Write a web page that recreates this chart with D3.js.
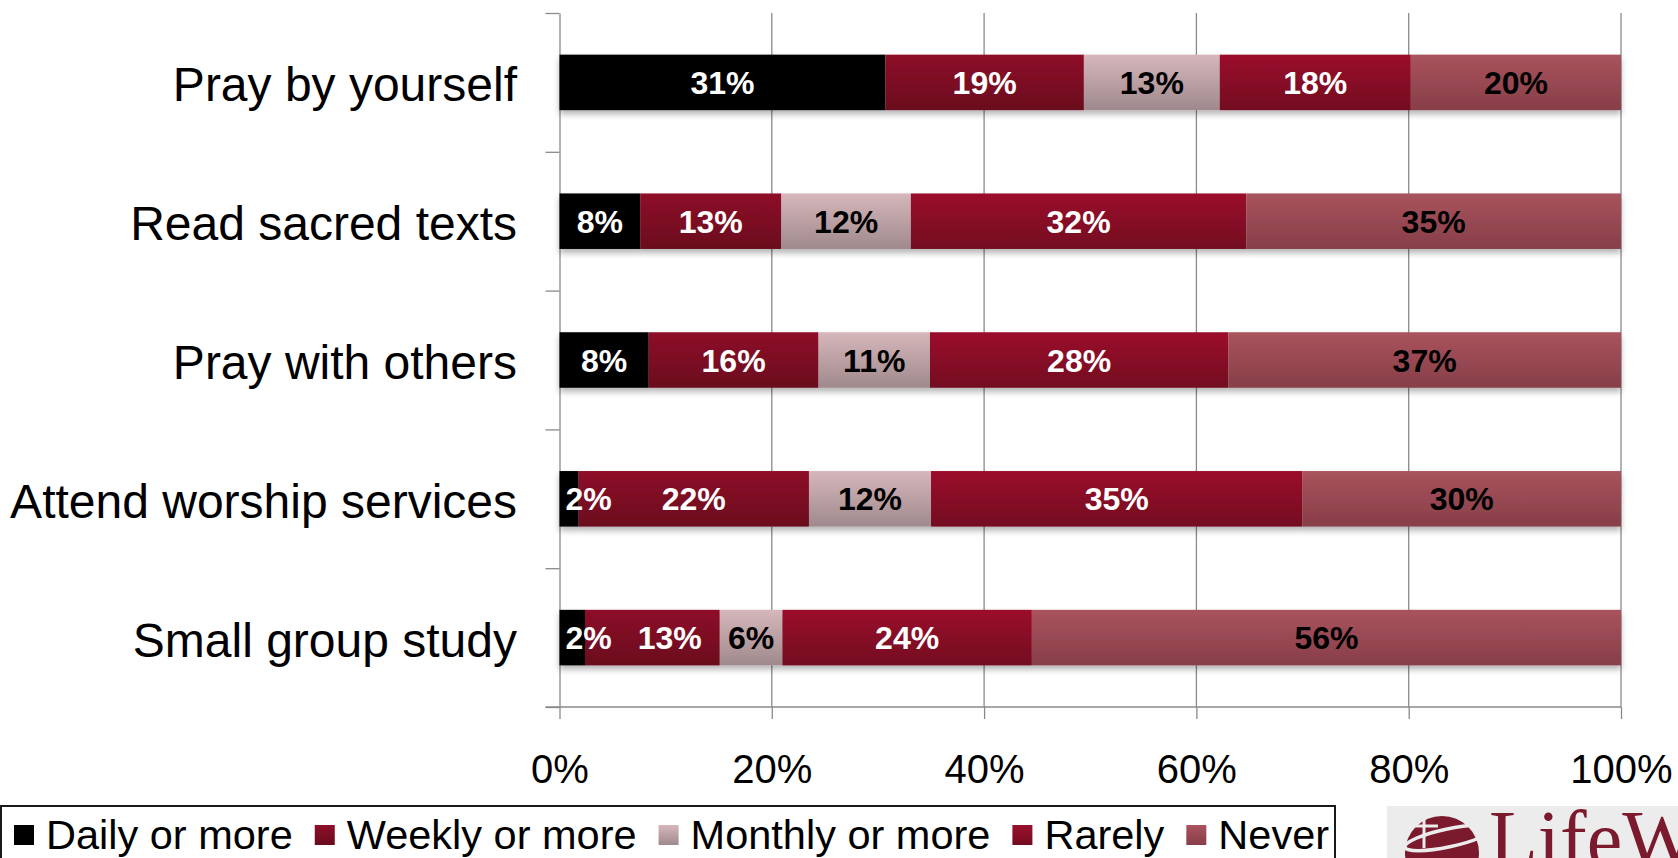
<!DOCTYPE html>
<html>
<head>
<meta charset="utf-8">
<script src="https://cdn.jsdelivr.net/npm/d3@7/dist/d3.min.js"></script>
<style>
  html, body { margin: 0; padding: 0; background: #fff; overflow: hidden; }
  text { font-family: "Liberation Sans", Arial, sans-serif; }
</style>
</head>
<body>
<svg id="chart" width="1678" height="858"></svg>
<script>
// ---- data ----
const categories = ["Pray by yourself", "Read sacred texts", "Pray with others", "Attend worship services", "Small group study"];
const seriesNames = ["Daily or more", "Weekly or more", "Monthly or more", "Rarely", "Never"];
const daily   = [30.7, 7.6, 8.4, 1.8, 2.4];
const weekly  = [18.7, 13.3, 16.0, 21.7, 12.7];
const monthly = [12.8, 12.2, 10.5, 11.5, 5.9];
const rarely  = [18.0, 31.6, 28.1, 35.0, 23.5];
const never   = [19.8, 35.3, 37.0, 30.0, 55.5];
const xTicks  = [0, 20, 40, 60, 80, 100];

const seriesValues = [daily, weekly, monthly, rarely, never];

// ---- styles ----
const grads = [
  null,
  ["#8e1029", "#6a0a1d"],
  ["#d6b7bb", "#9f898c"],
  ["#9b112c", "#730b20"],
  ["#a9535d", "#873e48"]
];
const fills = ["#000000", "url(#g1)", "url(#g2)", "url(#g3)", "url(#g4)"];
const labelColors = ["#fff", "#fff", "#000", "#fff", "#000"];

const svg = d3.select("#chart");
const defs = svg.append("defs");
grads.forEach((g, i) => {
  if (!g) return;
  const lg = defs.append("linearGradient").attr("id", "g" + i)
    .attr("x1", 0).attr("y1", 0).attr("x2", 0).attr("y2", 1);
  lg.append("stop").attr("offset", "0%").attr("stop-color", g[0]);
  lg.append("stop").attr("offset", "100%").attr("stop-color", g[1]);
});
const f = defs.append("filter").attr("id", "shadow")
  .attr("x", "-5%").attr("y", "-20%").attr("width", "110%").attr("height", "160%");
f.append("feDropShadow").attr("dx", 0).attr("dy", 4).attr("stdDeviation", 3)
  .attr("flood-color", "#000").attr("flood-opacity", 0.3);

// ---- scales ----
const plotTop = 13, plotBottom = 707;
const x = d3.scaleLinear().domain([0, 100]).range([559.5, 1621]);
const y = d3.scaleBand().domain(categories).range([plotTop, plotBottom]).paddingInner(0.6).paddingOuter(0.3);
const yEdges = d3.scaleLinear().domain([0, categories.length]).range([plotTop, plotBottom]);
const axisColor = "#8a8a8a";

// gridlines
svg.append("g").selectAll("line").data(xTicks.slice(1)).join("line")
  .attr("x1", d => x(d)).attr("x2", d => x(d))
  .attr("y1", plotTop).attr("y2", plotBottom)
  .attr("stroke", axisColor).attr("stroke-width", 1.3);

// y axis (ticks at category boundaries)
const yAxisG = svg.append("g").attr("transform", `translate(${x(0)},0)`)
  .call(d3.axisLeft(yEdges).tickValues(d3.range(0, categories.length + 1)).tickSize(14).tickSizeOuter(0).tickFormat(""));
yAxisG.selectAll("path, line").attr("stroke", axisColor).attr("stroke-width", 1.3);

// x axis
const xAxisG = svg.append("g").attr("transform", `translate(0,${plotBottom})`)
  .call(d3.axisBottom(x).tickValues(xTicks).tickSize(12).tickSizeOuter(0).tickFormat(d => d + "%"));
xAxisG.select(".domain").remove();
xAxisG.append("line").attr("x1", x(0) - 14).attr("x2", x(100)).attr("y1", 0).attr("y2", 0)
  .attr("stroke", axisColor).attr("stroke-width", 1.3);
xAxisG.selectAll("line").attr("stroke", axisColor).attr("stroke-width", 1.3);
xAxisG.selectAll("text").attr("y", 76).attr("dy", 0)
  .attr("font-size", 40).attr("fill", "#000")
  .style("font-family", '"Liberation Sans", Arial, sans-serif');

// category labels
svg.append("g").selectAll("text").data(categories).join("text")
  .attr("x", 517).attr("y", d => y(d) + y.bandwidth() / 2 + 19)
  .attr("text-anchor", "end").attr("font-size", 48).attr("fill", "#000")
  .text(d => d);

// bars
const bw = y.bandwidth();
categories.forEach((cat, ci) => {
  let cum = 0;
  const segs = seriesValues.map((vals, si) => {
    const s = { si, start: cum, v: vals[ci] };
    cum += vals[ci];
    return s;
  });
  const rowG = svg.append("g").attr("filter", "url(#shadow)");
  rowG.selectAll("rect").data(segs).join("rect")
    .attr("x", d => x(d.start)).attr("y", y(cat))
    .attr("width", d => x(d.start + d.v) - x(d.start)).attr("height", bw)
    .attr("fill", d => fills[d.si]);
  const labG = svg.append("g");
  let prevRight = -Infinity;
  segs.forEach(d => {
    const t = labG.append("text")
      .attr("y", y(cat) + bw / 2 + 11.5)
      .attr("font-size", 32).attr("font-weight", "bold")
      .attr("fill", labelColors[d.si])
      .attr("text-anchor", "middle")
      .text(Math.round(d.v) + "%");
    const w = t.node().getComputedTextLength();
    let cx = (x(d.start) + x(d.start + d.v)) / 2;
    let left = cx - w / 2;
    left = Math.max(left, x(0) + 6, prevRight + 26);
    cx = left + w / 2;
    t.attr("x", cx);
    prevRight = left + w;
  });
});

// legend
const legendY = 806;
svg.append("rect").attr("x", 1).attr("y", legendY).attr("width", 1334).attr("height", 80)
  .attr("fill", "none").attr("stroke", "#1a1a1a").attr("stroke-width", 2);
let lx = 14;
seriesNames.forEach((name, i) => {
  svg.append("rect").attr("x", lx).attr("y", 825).attr("width", 20).attr("height", 20)
    .attr("fill", fills[i]);
  const t = svg.append("text").attr("x", lx + 32).attr("y", 849)
    .attr("font-size", 41.5).attr("fill", "#000").text(name);
  lx = lx + 32 + t.node().getComputedTextLength() + 22;
});

// logo (partially visible)
const logo = svg.append("g");
logo.append("rect").attr("x", 1387).attr("y", 806).attr("width", 291).attr("height", 52).attr("fill", "#ececec");
logo.append("circle").attr("cx", 1442).attr("cy", 853).attr("r", 37).attr("fill", "#7b1a2d");
logo.append("ellipse").attr("cx", 1448).attr("cy", 838).attr("rx", 44).attr("ry", 9)
  .attr("transform", "rotate(-12,1448,838)")
  .attr("fill", "none").attr("stroke", "#ececec").attr("stroke-width", 3.5);
logo.append("line").attr("x1", 1424).attr("x2", 1424).attr("y1", 814).attr("y2", 848)
  .attr("stroke", "#ececec").attr("stroke-width", 3);
logo.append("line").attr("x1", 1412).attr("x2", 1438).attr("y1", 826).attr("y2", 826)
  .attr("stroke", "#ececec").attr("stroke-width", 3);
logo.append("text").attr("x", 1489).attr("y", 866)
  .attr("font-size", 80).attr("fill", "#7b1a2d")
  .style("font-family", '"Liberation Serif", "Times New Roman", serif')
  .text("LifeWay");
</script>
</body>
</html>
